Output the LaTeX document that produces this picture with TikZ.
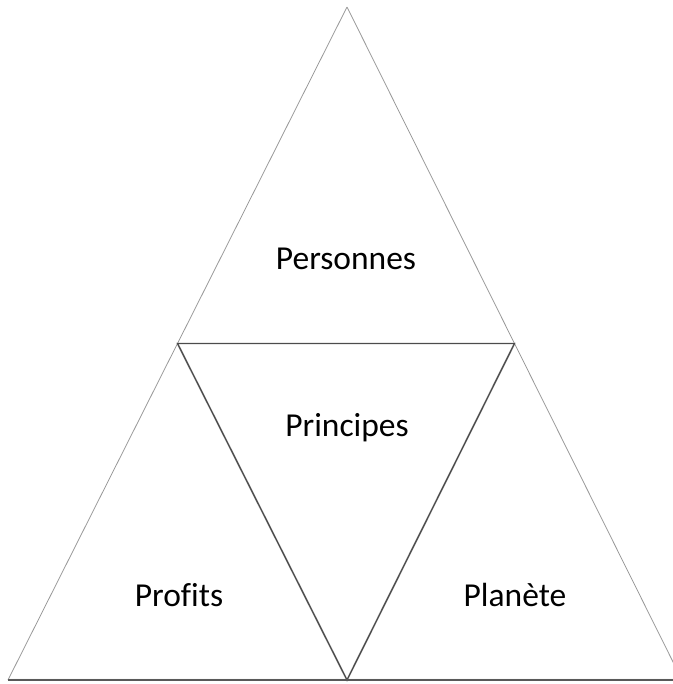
\documentclass[tikz,border=0pt]{standalone}
\usepackage{fontspec}
\setmainfont{Carlito}[Ligatures=NoCommon]
\begin{document}
\begin{tikzpicture}[x=1pt,y=1pt]
            \useasboundingbox (0,0) rectangle (672,684);
            \coordinate (top) at (347,677);
            \coordinate (bl) at (8,4);
            \coordinate (br) at (682,4);
            \coordinate (ml) at (177.5,340.5);
            \coordinate (mr) at (514.5,340.5);
            \coordinate (bm) at (347,4);
            % shadow
            \draw [gray!35, line width=2pt, shift={(1.2,-1.5)}] (ml) -- (bm) -- (mr) (bl) -- (br);
            \draw [gray!80, line width=0.8pt] (top) -- (bl) (top) -- (br);
            \draw [black!70, line width=1.3pt, line join=miter] (ml) -- (mr) -- (bm) -- cycle;
            \draw [black!65, line width=1.1pt] (bl) -- (br);
            \begin{scope}[every node/.style={anchor=base,font=\fontsize{33.5}{40}\selectfont}]
                \node (pers) at (346,414) {Personnes};
                \node (prin) at (347,247) {Principes};
                \node (prof) at (179,77) {Profits};
                \node (plan) at (515,77) {Planète};
            \end{scope}
        \end{tikzpicture}
\end{document}
